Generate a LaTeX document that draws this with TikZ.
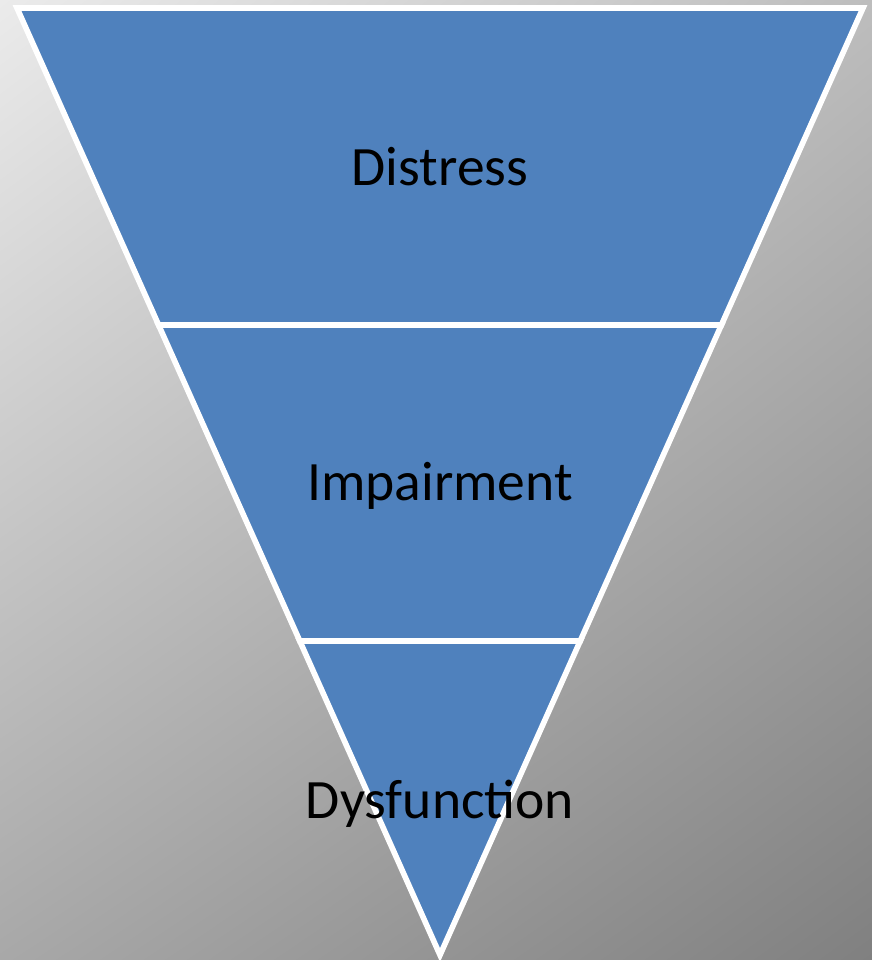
\documentclass[tikz,border=0pt]{standalone}
\usepackage{fontspec}
\setmainfont{Carlito}
\usetikzlibrary{positioning, shadings}
\usepackage{xcolor}
\definecolor{bandblue}{HTML}{4F81BD}
\definecolor{bgtl}{HTML}{EBEBEB}
\definecolor{bgtr}{HTML}{BDBDBD}
\definecolor{bgbl}{HTML}{A8A8A8}
\definecolor{bgbr}{HTML}{808080}
\tikzset{
    band/.style = {draw=white, fill=bandblue, line width=4pt, line join=miter},
    bandtext/.style = {anchor=base, text=black, font=\fontsize{39.5}{47}\selectfont}
}

\begin{document}
\begin{tikzpicture}[x=0.025cm, y=-0.025cm]
\useasboundingbox (0,0) rectangle (872,960);
\shade[upper left=bgtl, upper right=bgtr, lower left=bgbl, lower right=bgbr] (0,0) rectangle (872,960);

% inverted pyramid, three bands
\draw[band] (17,8) -- (863,8) -- (721.4,325) -- (158.6,325) -- cycle;
\draw[band] (158.6,325) -- (721.4,325) -- (580.2,641) -- (299.8,641) -- cycle;
\draw[band] (299.8,641) -- (580.2,641) -- (440,955) -- cycle;

\node[bandtext] (distress) at (440,185) {Distress};
\node[bandtext] (impairment) at (440,500) {Impairment};
\node[bandtext] (dysfunction) at (440,818) {Dysfunction};

\end{tikzpicture}
\end{document}
